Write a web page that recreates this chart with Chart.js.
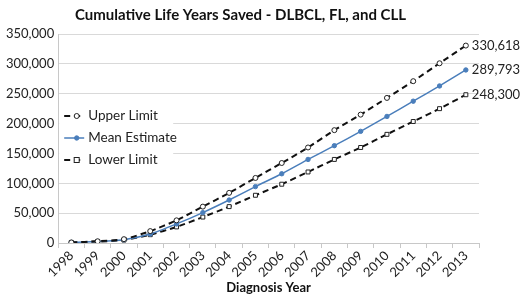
<!DOCTYPE html>
<html>
<head>
<meta charset="utf-8">
<script src="https://cdn.jsdelivr.net/npm/chart.js@4/dist/chart.umd.min.js"></script>
<style>
  html, body { margin: 0; padding: 0; background: #fff; }
  #wrap { width: 520px; height: 296px; }
</style>
</head>
<body>
<div id="wrap"><canvas id="lys-chart" width="520" height="296"></canvas></div>
<script>
//chart data
const years = ['1998', '1999', '2000', '2001', '2002', '2003', '2004', '2005',
               '2006', '2007', '2008', '2009', '2010', '2011', '2012', '2013'];
const upperLimit = [1000, 3000, 6500, 20000, 38000, 61000, 84000, 109000,
                    134000, 160000, 189000, 215000, 243000, 271000, 301000, 330618];
const meanEstimate = [1000, 2500, 5500, 15000, 32000, 51000, 72000, 94500,
                      116000, 140000, 163000, 187000, 212000, 237500, 263000, 289793];
const lowerLimit = [1000, 2500, 5000, 14000, 27000, 43500, 61000, 80000,
                    98500, 119000, 140000, 160000, 182000, 203500, 225000, 248300];
const yTicks = [0, 50000, 100000, 150000, 200000, 250000, 300000, 350000];

const fontFamily = 'Lato, "Open Sans", sans-serif';
const blue = '#4a7ebb';

//legend drawn inside the plot, top left
const insideLegend = {
    id: 'insideLegend',
    afterDatasetsDraw(chart) {
        const ctx = chart.ctx;
        const area = chart.chartArea;
        const x0 = area.left + 1;
        ctx.save();
        ctx.fillStyle = '#fff';
        ctx.fillRect(x0, 104, 114, 66);
        ctx.font = '13.5px ' + fontFamily;
        ctx.textBaseline = 'middle';
        chart.data.datasets.forEach((ds, i) => {
            const y = 116 + i * 22;
            ctx.strokeStyle = ds.borderColor;
            ctx.lineWidth = ds.borderWidth;
            ctx.setLineDash(ds.borderDash || []);
            ctx.beginPath();
            ctx.moveTo(x0 + 5, y);
            ctx.lineTo(x0 + 25, y);
            ctx.stroke();
            ctx.setLineDash([]);
            ctx.lineWidth = 1;
            ctx.fillStyle = ds.pointBackgroundColor;
            ctx.strokeStyle = ds.pointBorderColor;
            if (ds.pointStyle === 'rect') {
                ctx.fillRect(x0 + 15, y - 2.5, 5, 5);
                ctx.strokeRect(x0 + 15, y - 2.5, 5, 5);
            } else {
                ctx.beginPath();
                ctx.arc(x0 + 17.5, y, ds.pointRadius, 0, Math.PI * 2);
                ctx.fill();
                ctx.stroke();
            }
            ctx.fillStyle = '#222';
            ctx.fillText(ds.label, x0 + 29, y);
        });
        ctx.restore();
    }
};

//value labels at the end of each line
const endLabels = {
    id: 'endLabels',
    afterDatasetsDraw(chart) {
        const ctx = chart.ctx;
        ctx.save();
        ctx.font = '13px ' + fontFamily;
        ctx.fillStyle = '#222';
        ctx.textBaseline = 'middle';
        chart.data.datasets.forEach((ds, i) => {
            const meta = chart.getDatasetMeta(i);
            const last = meta.data[meta.data.length - 1];
            const val = ds.data[ds.data.length - 1];
            ctx.fillText(val.toLocaleString('en-US'), last.x + 6, last.y);
        });
        ctx.restore();
    }
};

const data = {
    labels: years,
    datasets: [
        {
            label: 'Upper Limit',
            data: upperLimit,
            borderColor: '#111',
            borderWidth: 2,
            borderDash: [6, 4],
            pointStyle: 'circle',
            pointRadius: 2.5,
            pointBackgroundColor: '#fff',
            pointBorderColor: '#222',
            pointBorderWidth: 1,
            tension: 0.2
        },
        {
            label: 'Mean Estimate',
            data: meanEstimate,
            borderColor: blue,
            borderWidth: 1.5,
            pointStyle: 'circle',
            pointRadius: 2.2,
            pointBackgroundColor: blue,
            pointBorderColor: blue,
            pointBorderWidth: 1,
            tension: 0.2
        },
        {
            label: 'Lower Limit',
            data: lowerLimit,
            borderColor: '#111',
            borderWidth: 2,
            borderDash: [6, 4],
            pointStyle: 'rect',
            pointRadius: 2.8,
            pointBackgroundColor: '#fff',
            pointBorderColor: '#222',
            pointBorderWidth: 1,
            tension: 0.2
        }
    ]
};

const config = {
    type: 'line',
    data: data,
    options: {
        responsive: false,
        animation: false,
        layout: { padding: { left: 2, right: 41, top: 6, bottom: 0 } },
        plugins: {
            legend: { display: false },
            tooltip: { enabled: false },
            title: {
                display: true,
                text: 'Cumulative Life Years Saved - DLBCL, FL, and CLL',
                color: '#111',
                font: { family: fontFamily, size: 15, weight: 'bold' },
                padding: { top: 0, bottom: 10 }
            }
        },
        scales: {
            x: {
                offset: true,
                grid: { offset: true, drawOnChartArea: false, drawTicks: true, tickLength: 5, color: '#c8c8c8' },
                border: { color: '#c8c8c8' },
                ticks: {
                    color: '#222',
                    font: { family: fontFamily, size: 13 },
                    autoSkip: false,
                    maxRotation: 45,
                    minRotation: 45,
                    padding: 0
                },
                title: {
                    display: true,
                    text: 'Diagnosis Year',
                    color: '#111',
                    font: { family: fontFamily, size: 13, weight: 'bold' },
                    padding: { top: 0, bottom: 0 }
                }
            },
            y: {
                min: 0,
                max: 350000,
                afterBuildTicks: axis => { axis.ticks = yTicks.map(v => ({ value: v })); },
                grid: { color: '#d9d9d9', drawTicks: false },
                border: { color: '#c8c8c8' },
                ticks: {
                    color: '#222',
                    font: { family: fontFamily, size: 13 },
                    padding: 4,
                    callback: v => v.toLocaleString('en-US')
                }
            }
        }
    },
    plugins: [insideLegend, endLabels]
};

const lysChart = new Chart(document.getElementById('lys-chart'), config);
</script>
</body>
</html>
